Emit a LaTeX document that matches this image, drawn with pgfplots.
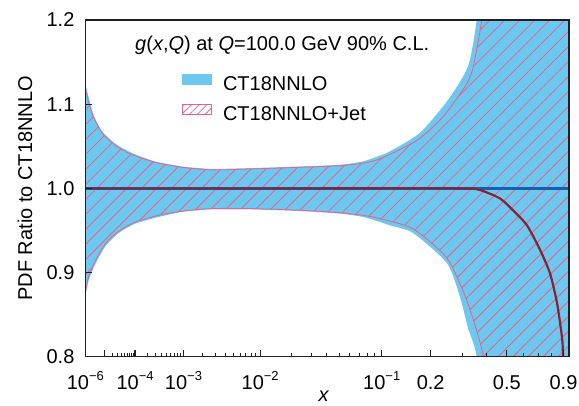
\documentclass[border=0pt]{standalone}
\usepackage{fontspec}
\setmainfont{Liberation Sans}
\usepackage{pgfplots}
\pgfplotsset{compat=1.18}
\usetikzlibrary{patterns.meta}
\definecolor{bandblue}{RGB}{108,200,238}
\definecolor{hatchpink}{RGB}{232,96,140}
\definecolor{cenblue}{RGB}{25,95,175}
\definecolor{cenred}{RGB}{135,35,55}
\definecolor{axisgray}{RGB}{35,31,32}
\newcommand\sx[1]{\raisebox{0.42em}{\fontsize{13}{13}\selectfont #1}}
\begin{document}
\fontsize{20}{24}\selectfont
\begin{tikzpicture}[font=\fontsize{20}{24}\selectfont]
\path[use as bounding box] (-85.3pt,-48.3pt) rectangle (493.7pt,356.7pt);
\begin{axis}[
  scale only axis, width=483.7pt, height=336.7pt,
  at={(0pt,0pt)}, anchor=south west,
  xmin=0.063096, xmax=0.9897, ymin=0.8, ymax=1.2,
  axis on top,
  axis line style={line width=1.5pt, axisgray},
  tick align=inside,
  xtick pos=lower, ytick pos=left,
  major tick length=7pt, minor tick length=3.5pt,
  major tick style={line width=1.2pt, axisgray},
  minor tick style={line width=1pt, axisgray},
  xtick={0.063096,0.1,0.158489,0.251189,0.398107,0.630957,0.724780,0.870551,0.979148},
  xticklabels={10\sx{−6},{},10\sx{−4},10\sx{−3},10\sx{−2},10\sx{−1},0.2,0.5,0.9},
  minor xtick={0.11487,0.12457,0.13195,0.13797,0.14310,0.14758,0.15157,0.15518,
    0.18206,0.19743,0.20913,0.21867,0.22680,0.23390,0.24022,0.24594,
    0.28854,0.31291,0.33144,0.34657,0.35946,0.37071,0.38073,0.38979,
    0.45730,0.49592,0.52530,0.54927,0.56969,0.58753,0.60341,0.61778,
    0.78600,0.83255,0.90291,0.93117,0.95635},
  xticklabel style={anchor=base, yshift=-32.3pt},
  ytick={0.8,0.9,1.0,1.1,1.2},
  yticklabel style={/pgf/number format/.cd, fixed, fixed zerofill, precision=1, /tikz/.cd, xshift=-4pt},
  /pgf/number format/assume math mode=true,
  xlabel={\textit{x}},
  xlabel style={at={(axis description cs:0.4935,-0.117)}, anchor=center},
  ylabel={PDF Ratio to CT18NNLO},
  ylabel style={at={(axis description cs:-0.1247,0.5)}, anchor=center},
  legend style={draw=none, fill=none, at={(rel axis cs:0.2,0.84)}, anchor=north west,
    inner sep=0pt, row sep=13.5pt, column sep=11pt,
    nodes={inner sep=0pt, text height=14pt, text depth=0pt}},
  legend cell align=left,
  legend image code/.code={\path[#1] (0pt,-1pt) rectangle (29pt,9pt);},
]
\addlegendimage{fill=bandblue, draw=bandblue}
\addlegendentry{CT18NNLO}
\addlegendimage{draw=hatchpink, line width=0.8pt, pattern={Lines[angle=45,distance=5.5pt,line width=0.8pt]}, pattern color=hatchpink}
\addlegendentry{CT18NNLO+Jet}

% CT18NNLO band
\addplot[fill=bandblue, draw=none, smooth, tension=0.4, forget plot] coordinates {
(0.050,1.17) (0.0631,1.125) (0.0696,1.108) (0.0759,1.093) (0.0823,1.082) (0.0951,1.068)
(0.1206,1.053) (0.1526,1.042) (0.1966,1.032) (0.2483,1.026) (0.2828,1.024)
(0.3058,1.023) (0.3786,1.024) (0.4744,1.026) (0.5510,1.028) (0.5951,1.032)
(0.6277,1.039) (0.6468,1.044) (0.7043,1.066) (0.7579,1.105) (0.7962,1.145)
(0.8129,1.200) (0.8300,1.300) (1.05,1.3) (1.05,0.7) (0.8300,0.700)
(0.8129,0.800) (0.7962,0.834) (0.7809,0.871) (0.7560,0.911) (0.6909,0.947)
(0.6468,0.956) (0.6277,0.960) (0.5951,0.966) (0.5510,0.970) (0.4744,0.973)
(0.3786,0.975) (0.3058,0.975) (0.2828,0.974) (0.2483,0.972) (0.2037,0.966)
(0.1589,0.958) (0.1271,0.947) (0.1014,0.931) (0.0823,0.910) (0.0696,0.891)
(0.0631,0.870) (0.050,0.82)} -- cycle;

% CT18NNLO+Jet band
\addplot[draw=hatchpink, line width=0.8pt, smooth, tension=0.4, pattern={Lines[angle=45,distance=10.6pt,line width=0.8pt]}, pattern color=hatchpink, forget plot] coordinates {
(0.050,1.16) (0.0631,1.119) (0.0759,1.089) (0.0951,1.066) (0.1206,1.051) (0.1526,1.040)
(0.1966,1.031) (0.2483,1.025) (0.3058,1.022) (0.3786,1.023) (0.4744,1.025)
(0.5510,1.027) (0.5951,1.030) (0.6277,1.035) (0.6985,1.057) (0.7484,1.085)
(0.7905,1.121) (0.8058,1.143) (0.8225,1.200) (0.8420,1.300) (1.05,1.3)
(1.05,0.7) (0.8420,0.700) (0.8256,0.800) (0.7938,0.867) (0.7560,0.917)
(0.6909,0.952) (0.6277,0.964) (0.5951,0.968) (0.5510,0.971) (0.4744,0.974)
(0.3786,0.976) (0.3058,0.976) (0.2483,0.973) (0.2037,0.968) (0.1589,0.960)
(0.1271,0.949) (0.1014,0.934) (0.0823,0.914) (0.0696,0.895) (0.0631,0.876) (0.050,0.83)} -- cycle;

% central CT18NNLO
\addplot[cenblue, line width=2.4pt, forget plot] coordinates {(0.0631,1.0) (0.9897,1.0)};
% central CT18NNLO+Jet
\addplot[cenred, line width=2.2pt, smooth, tension=0.4, forget plot] coordinates {
(0.0631,1.000) (0.5,1.000) (0.7809,1.000) (0.8192,0.998) (0.8575,0.988) (0.8824,0.974)
(0.9093,0.956) (0.9342,0.927) (0.9533,0.899) (0.9667,0.864) (0.9763,0.823)
(0.9782,0.800) (0.9821,0.700)};

\node[anchor=base west, inner sep=0pt] at (rel axis cs:0.1028,0.9094)
  {\textit{g}(\textit{x},\textit{Q}) at \textit{Q}=100.0 GeV 90\% C.L.};
\end{axis}
\end{tikzpicture}
\end{document}
